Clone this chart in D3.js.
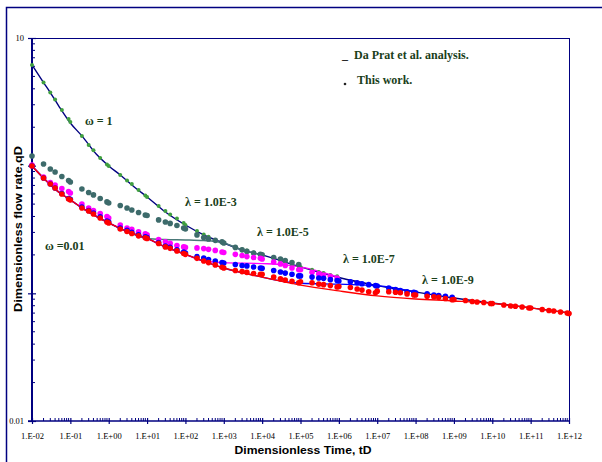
<!DOCTYPE html>
<html>
<head>
<meta charset="utf-8">
<script src="https://cdn.jsdelivr.net/npm/d3@7"></script>
<style>
  body { margin: 0; background: #fff; }
  svg { display: block; }
</style>
</head>
<body>
<div id="chart"></div>
<script>
// axis ticks
const xTicks = [1e-2, 1e-1, 1e0, 1e1, 1e2, 1e3, 1e4, 1e5, 1e6, 1e7, 1e8, 1e9, 1e10, 1e11, 1e12];
const xTickLabels = ["1.E-02", "1.E-01", "1.E+00", "1.E+01", "1.E+02", "1.E+03", "1.E+04", "1.E+05",
  "1.E+06", "1.E+07", "1.E+08", "1.E+09", "1.E+10", "1.E+11", "1.E+12"];
const yTicks = [0.01, 0.1, 1, 10];
const yTickLabels = ["0.01", "", "", "10"];

// sample times of the "this work" points
const tGrid = [
  0.01, 0.02, 0.03, 0.04, 0.06, 0.09,
  0.1, 0.2, 0.3, 0.4, 0.6, 0.9,
  1, 2, 3, 4, 6, 9,
  10, 20, 30, 40, 60, 90,
  100, 200, 300, 400, 600, 900,
  1e3, 2e3, 3e3, 4e3, 6e3, 9e3,
  1e4, 2e4, 3e4, 4e4, 6e4, 9e4,
  1e5, 2e5, 3e5, 4e5, 6e5, 9e5,
  1e6, 2e6, 3e6, 4e6, 6e6, 9e6,
  1e7, 2e7, 3e7, 4e7, 6e7, 9e7,
  1e8, 2e8, 3e8, 4e8, 6e8, 9e8,
  1e9, 2e9, 3e9, 4e9, 6e9, 9e9,
  1e10, 2e10, 3e10, 4e10, 6e10, 9e10,
  1e11, 2e11, 3e11, 4e11, 6e11, 9e11,
  1e12
];

// this work: qD at tGrid (omega = 1)
const qOmega1 = [
  6.15, 4.48, 3.74, 3.30, 2.73, 2.32,
  2.20, 1.71, 1.45, 1.32, 1.15, 1.02,
  0.995, 0.846, 0.766, 0.719, 0.645, 0.584,
  0.569, 0.484, 0.442, 0.415, 0.386, 0.356,
  0.343, 0.308, 0.289, 0.277, 0.262, 0.250,
  0.248, 0.231, 0.221, 0.217, 0.209, 0.202,
  0.200, 0.188, 0.179, 0.174, 0.168, 0.162,
  0.161, 0.153, 0.147, 0.144, 0.139, 0.136
];
// omega = 0.01, lambda = 1E-3
const qLam3 = [
  1.190, 1.031, 0.942, 0.893, 0.823, 0.766,
  0.745, 0.657, 0.616, 0.590, 0.553, 0.520,
  0.510, 0.488, 0.466, 0.450, 0.430, 0.411,
  0.407, 0.376, 0.362, 0.353, 0.340, 0.325,
  0.319, 0.287, 0.274, 0.267, 0.260, 0.253,
  0.248, 0.229, 0.219, 0.213, 0.207, 0.202,
  0.200, 0.191, 0.186, 0.181, 0.174, 0.168
];
// lambda = 1E-5
const qLam5 = [
  1.013, 0.816, 0.738, 0.706, 0.663, 0.628,
  0.611, 0.501, 0.466, 0.446, 0.422, 0.400,
  0.389, 0.343, 0.325, 0.317, 0.303, 0.292,
  0.287, 0.264, 0.253, 0.246, 0.237, 0.231,
  0.229, 0.227, 0.224, 0.221, 0.217, 0.211,
  0.209, 0.202, 0.198, 0.194, 0.191, 0.188,
  0.186, 0.176, 0.170, 0.165, 0.158, 0.153,
  0.153, 0.146, 0.142, 0.139, 0.136, 0.132
];
// lambda = 1E-7
const qLam7 = [
  0.994, 0.801, 0.719, 0.669, 0.606, 0.553,
  0.544, 0.475, 0.446, 0.426, 0.397, 0.369,
  0.362, 0.325, 0.311, 0.300, 0.287, 0.277,
  0.274, 0.250, 0.235, 0.229, 0.219, 0.211,
  0.207, 0.194, 0.189, 0.184, 0.179, 0.174,
  0.173, 0.168, 0.165, 0.164, 0.161, 0.158,
  0.157, 0.151, 0.147, 0.144, 0.141, 0.137,
  0.137, 0.134, 0.132, 0.131, 0.128, 0.126,
  0.125, 0.123, 0.121, 0.119, 0.117, 0.115,
  0.114, 0.110, 0.107, 0.105, 0.103, 0.102,
  0.101, 0.099, 0.097, 0.096, 0.095, 0.093
];
// lambda = 1E-9
const qLam9 = [
  0.994, 0.801, 0.719, 0.669, 0.600, 0.548,
  0.539, 0.466, 0.442, 0.418, 0.389, 0.362,
  0.356, 0.319, 0.305, 0.294, 0.282, 0.272,
  0.269, 0.246, 0.231, 0.225, 0.215, 0.205,
  0.202, 0.188, 0.179, 0.174, 0.167, 0.160,
  0.158, 0.151, 0.148, 0.146, 0.143, 0.141,
  0.141, 0.134, 0.130, 0.127, 0.124, 0.121,
  0.123, 0.121, 0.118, 0.117, 0.115, 0.112,
  0.113, 0.111, 0.108, 0.106, 0.103, 0.101,
  0.104, 0.103, 0.102, 0.101, 0.099, 0.097,
  0.097, 0.095, 0.094, 0.093, 0.091, 0.089,
  0.0895, 0.0879, 0.0863, 0.0855, 0.0848, 0.0833,
  0.0833, 0.0811, 0.0796, 0.0792, 0.0782, 0.0768,
  0.0768, 0.0748, 0.0734, 0.0728, 0.0714, 0.0701,
  0.0695
];

// Da Prat et al. analysis curves [tD, qD]
const omega1Line = [[0.01, 6.15], [0.02, 4.48], [0.03, 3.74], [0.05, 2.93], [0.1, 2.16], [0.2, 1.71],
  [0.5, 1.21], [1, 0.995], [2, 0.846], [5, 0.669], [10, 0.569], [30, 0.434], [100, 0.343], [300, 0.287],
  [1e3, 0.248], [3e3, 0.219], [1e4, 0.200], [1e5, 0.161], [1e6, 0.133], [1e7, 0.115], [1e8, 0.1025],
  [1e9, 0.092], [1e10, 0.084], [1e11, 0.077], [1e12, 0.0703]];
const fissureLine = [[0.01, 0.995], [0.02, 0.80], [0.05, 0.62], [0.1, 0.539], [0.2, 0.467], [0.5, 0.397],
  [1, 0.356], [3, 0.305], [10, 0.269], [30, 0.231], [100, 0.202], [1e3, 0.158], [1e4, 0.134]];
const lam3Tail = [[30, 0.264], [100, 0.262], [300, 0.259], [600, 0.255], [1e3, 0.248], [3e3, 0.219], [1e4, 0.200]];
const lam5Tail = [[300, 0.179], [1e3, 0.174], [1e4, 0.171], [4e4, 0.167], [1e5, 0.161], [1e6, 0.133]];
const lam7Tail = [[3e4, 0.125], [1e5, 0.120], [1e6, 0.118], [5e6, 0.116], [1e7, 0.115], [1e8, 0.1025]];
const lam9Tail = [[1e5, 0.116], [1e6, 0.1045], [1e7, 0.0955], [1e8, 0.0904], [1e9, 0.0872],
  [1e10, 0.0833], [1e11, 0.0769], [1e12, 0.0703]];

const w = 602, h = 462;
const pLeft = 32, pRight = 569, pTop = 38, pBottom = 421;
const navy = "#000080";
const labelGreen = "#1a401a";

const svg = d3.select("#chart").append("svg").attr("width", w).attr("height", h);

// outer chart frame (cut off at right / bottom like the original)
svg.append("rect")
  .attr("x", 6.5).attr("y", 7.5).attr("width", 610).attr("height", 470)
  .attr("fill", "none").attr("stroke", navy).attr("stroke-width", 1.5);

const x = d3.scaleLog().domain([1e-2, 1e12]).range([pLeft, pRight]);
const y = d3.scaleLog().domain([0.01, 10]).range([pBottom, pTop]);

// plot box
svg.append("line").attr("x1", pLeft - 4).attr("x2", pRight).attr("y1", pTop + 0.5).attr("y2", pTop + 0.5)
  .attr("stroke", navy).attr("stroke-width", 1);
svg.append("line").attr("x1", pRight + 0.5).attr("x2", pRight + 0.5).attr("y1", pTop).attr("y2", pBottom)
  .attr("stroke", navy).attr("stroke-width", 1);

// minor ticks
const minorX = [], minorY = [];
for (let e = -2; e < 12; e++) for (let k = 2; k <= 9; k++) minorX.push(k * Math.pow(10, e));
for (let e = -2; e < 1; e++) for (let k = 2; k <= 9; k++) minorY.push(k * Math.pow(10, e));

svg.append("g").selectAll("line").data(minorX).enter().append("line")
  .attr("x1", (d) => x(d)).attr("x2", (d) => x(d))
  .attr("y1", pBottom).attr("y2", pBottom - 3)
  .attr("stroke", navy).attr("stroke-width", 1);
svg.append("g").selectAll("line").data(minorY).enter().append("line")
  .attr("y1", (d) => y(d)).attr("y2", (d) => y(d))
  .attr("x1", pLeft).attr("x2", pLeft + 3)
  .attr("stroke", navy).attr("stroke-width", 1);

// x axis
const xAxis = svg.append("g")
  .attr("transform", `translate(0,${pBottom})`)
  .call(d3.axisBottom(x).tickValues(xTicks).tickFormat((d, i) => xTickLabels[i])
    .tickSizeInner(3).tickSizeOuter(0));
xAxis.select(".domain").remove();
xAxis.selectAll(".tick line").attr("y1", -3).attr("y2", 3).attr("stroke", navy).attr("stroke-width", 1.2);
xAxis.selectAll(".tick text")
  .attr("y", 18).attr("dy", null)
  .attr("fill", "#000").attr("font-family", "'Liberation Serif', 'Times New Roman', serif")
  .attr("font-size", 8.5);

// y axis
const yAxis = svg.append("g")
  .attr("transform", `translate(${pLeft},0)`)
  .call(d3.axisLeft(y).tickValues(yTicks).tickFormat((d, i) => yTickLabels[i])
    .tickSizeInner(4).tickPadding(4).tickSizeOuter(0));
yAxis.select(".domain").remove();
yAxis.selectAll(".tick line").attr("x1", -4).attr("x2", 4).attr("stroke", navy).attr("stroke-width", 1.2);
yAxis.selectAll(".tick text")
  .attr("fill", "#000").attr("font-family", "'Liberation Serif', 'Times New Roman', serif")
  .attr("font-size", 8.5);

svg.append("line").attr("x1", pLeft - 4).attr("x2", pRight).attr("y1", pBottom).attr("y2", pBottom)
  .attr("stroke", navy).attr("stroke-width", 1.5);
svg.append("line").attr("x1", pLeft).attr("x2", pLeft).attr("y1", pTop).attr("y2", pBottom + 1)
  .attr("stroke", navy).attr("stroke-width", 2);

// axis titles
svg.append("text")
  .attr("x", 303).attr("y", 454)
  .attr("text-anchor", "middle")
  .attr("font-family", "'Liberation Sans', Arial, sans-serif")
  .attr("font-weight", "bold").attr("font-size", 11.5)
  .attr("textLength", 137).attr("lengthAdjust", "spacingAndGlyphs")
  .text("Dimensionless Time, tD");

svg.append("text")
  .attr("transform", "translate(22,229) rotate(-90)")
  .attr("text-anchor", "middle")
  .attr("font-family", "'Liberation Sans', Arial, sans-serif")
  .attr("font-weight", "bold").attr("font-size", 11.5)
  .attr("textLength", 166).attr("lengthAdjust", "spacingAndGlyphs")
  .text("Dimensionless flow rate,qD");

// lines
const line = d3.line().x((d) => x(d[0])).y((d) => y(d[1])).curve(d3.curveMonotoneX);
const lineSets = [
  { data: omega1Line, color: navy },
  { data: fissureLine.filter((d) => d[0] <= 10).concat(lam3Tail), color: "#4a7878" },
  { data: fissureLine.filter((d) => d[0] <= 100).concat(lam5Tail), color: "#ff00ff" },
  { data: fissureLine.filter((d) => d[0] <= 1e4).concat(lam7Tail), color: "#0000ff" },
  { data: fissureLine.concat(lam9Tail), color: "#ff0000" }
];
svg.append("g").selectAll("path").data(lineSets).enter().append("path")
  .attr("d", (d) => line(d.data))
  .attr("fill", "none")
  .attr("stroke", (d) => d.color)
  .attr("stroke-width", 1.4);

// points
const dotSets = [
  { q: qOmega1, color: "#3f9f3f", r: 2 },
  { q: qLam3, color: "#3d6b6b", r: 2.8 },
  { q: qLam5, color: "#ff00ff", r: 2.8 },
  { q: qLam7, color: "#0000ff", r: 2.8 },
  { q: qLam9, color: "#ff0000", r: 2.8 }
];
dotSets.forEach((s) => {
  svg.append("g").selectAll("circle")
    .data(s.q.map((q, i) => [tGrid[i], q]))
    .enter().append("circle")
    .attr("cx", (d) => x(d[0]))
    .attr("cy", (d) => y(d[1]))
    .attr("r", s.r)
    .attr("fill", s.color);
});

// curve annotations
const notes = [
  { text: "ω = 1", x: 85, y: 125 },
  { text: "λ = 1.0E-3", x: 185, y: 206 },
  { text: "ω =0.01", x: 45, y: 250 },
  { text: "λ = 1.0E-5", x: 257, y: 236 },
  { text: "λ = 1.0E-7", x: 343, y: 263 },
  { text: "λ = 1.0E-9", x: 422, y: 284 }
];
svg.append("g").selectAll("text").data(notes).enter().append("text")
  .attr("x", (d) => d.x).attr("y", (d) => d.y)
  .attr("font-family", "'Liberation Serif', 'Times New Roman', serif")
  .attr("font-weight", "bold").attr("font-size", 12)
  .attr("fill", labelGreen)
  .text((d) => d.text);

// legend
const legend = svg.append("g")
  .attr("font-family", "'Liberation Serif', 'Times New Roman', serif")
  .attr("font-weight", "bold").attr("font-size", 12)
  .attr("fill", labelGreen);
legend.append("text").attr("x", 342).attr("y", 59).attr("fill", "#222").text("_");
legend.append("text").attr("x", 354).attr("y", 59).text("Da Prat et al. analysis.");
legend.append("circle").attr("cx", 345).attr("cy", 84).attr("r", 1.3).attr("fill", "#222");
legend.append("text").attr("x", 357).attr("y", 84).text("This work.");
</script>
</body>
</html>
